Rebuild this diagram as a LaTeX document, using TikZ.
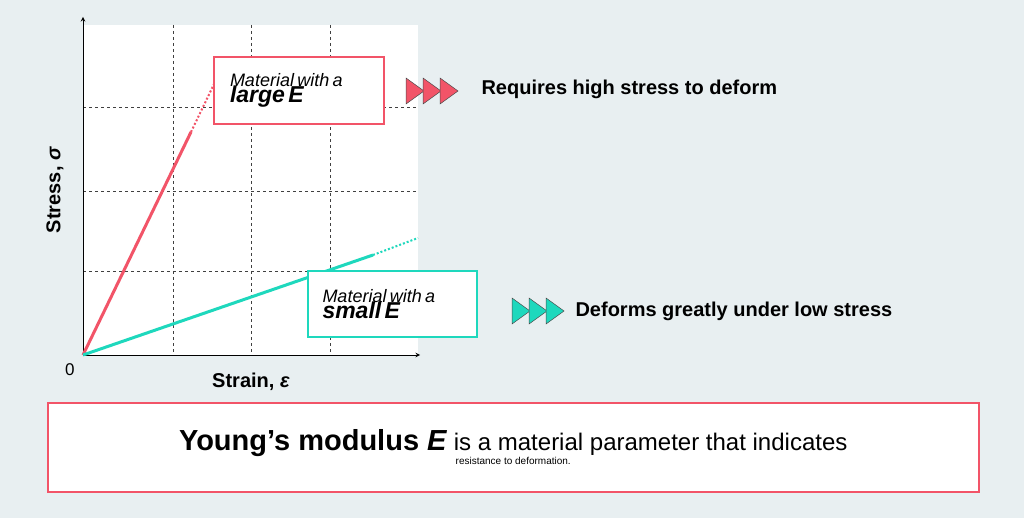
\documentclass[tikz,border=0pt]{standalone}
\usepackage{fontspec}
\setmainfont{Liberation Sans}
\definecolor{bgc}{HTML}{E8EFF1}
\definecolor{redc}{HTML}{F25468}
\definecolor{tealc}{HTML}{1ED8BD}
\tikzset{
  gridline/.style={black!75,dashed,line width=0.8pt},
  matbox/.style={draw,line width=2pt,fill=white,align=left,inner sep=0pt,anchor=north west},
  tri/.style={fill=#1,draw=black!70,line width=0.5pt},
  note/.style={font=\bfseries\fontsize{20}{24}\selectfont,anchor=west}
}
\begin{document}
\begin{tikzpicture}[x=1pt,y=-1pt]
    \fill [bgc] (0,0) rectangle (1024,518);
    \useasboundingbox (0,0) rectangle (1024,518);
    \fill [white] (83,25) rectangle (418,355);
		\foreach \x in {173,251,330} \draw [gridline] (\x,25) -- (\x,355);
		\foreach \y in {107,191,271} \draw [gridline] (83,\y) -- (418,\y);
    \coordinate (o) at (83,355);
    \coordinate (ytop) at (83,17);
    \coordinate (xend) at (420,355);
    \draw [line width=1pt,-stealth] (o) -- (ytop);
    \draw [line width=1pt,-stealth] (o) -- (xend);
    \node [anchor=north east] (zero) at (78,360) {\fontsize{17}{20}\selectfont 0};
    \node (xlab) at (251,382) {\bfseries\fontsize{20}{24}\selectfont Strain, \textit{ε}};
    \node [rotate=90] (ylab) at (55,190) {\bfseries\fontsize{20}{24}\selectfont Stress, \textit{σ}};
		% stress-strain lines
    \coordinate (rs) at (191,132);
    \coordinate (re) at (215,82);
    \coordinate (ts) at (373,255);
    \coordinate (te) at (418,238);
    \draw [redc,line width=3pt] (o) -- (rs);
    \draw [redc,line width=2pt,dotted] (rs) -- (re);
    \draw [tealc,line width=3pt] (o) -- (ts);
    \draw [tealc,line width=2pt,dotted] (ts) -- (te);
		% labels
    \node [matbox,draw=redc,minimum width=170pt,minimum height=67pt,text width=158pt] (large) at (213,56)
      {\hspace*{10pt}\itshape\fontsize{18}{22}\selectfont Material with a\\[-2pt]\hspace*{10pt}\bfseries\itshape\fontsize{23}{28}\selectfont large E};
    \node [matbox,draw=tealc,minimum width=169pt,minimum height=66pt,text width=158pt] (small) at (307,270)
      {\hspace*{9pt}\itshape\fontsize{18}{22}\selectfont Material with a\\[-2pt]\hspace*{9pt}\bfseries\itshape\fontsize{23}{28}\selectfont small E};
		% arrow triangles
    \foreach \i in {0,1,2} {
			\draw [tri=redc] (406+17*\i,78) -- (424+17*\i,91) -- (406+17*\i,104) -- cycle;
			\draw [tri=tealc] (512+17*\i,298) -- (530+17*\i,311) -- (512+17*\i,324) -- cycle;
    }
    \node [note] (high) at (478,89) {Requires high stress to deform};
    \node [note] (low) at (572,311) {Deforms greatly under low stress};
		% summary box
    \node [draw=redc,line width=1.5pt,fill=white,minimum width=931pt,minimum height=89pt,align=center,anchor=north west,inner sep=0pt] (summary) at (47,402)
      {\fontsize{24}{30}\selectfont{\bfseries\fontsize{29}{30}\selectfont Young’s modulus \textit{E}} is a material parameter that indicates\\ resistance to deformation.};
  \end{tikzpicture}
\end{document}
